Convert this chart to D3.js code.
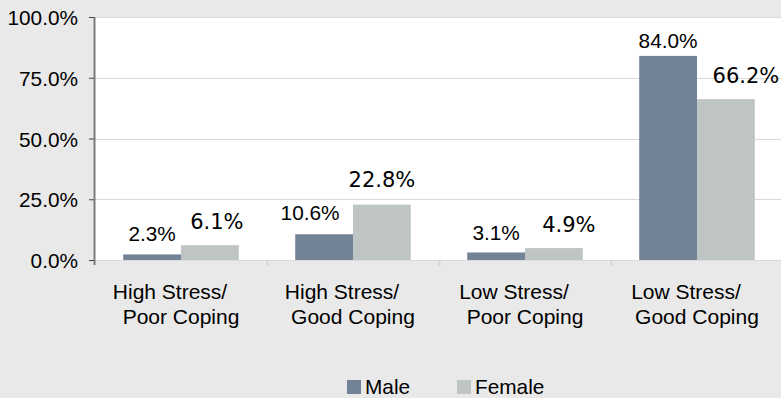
<!DOCTYPE html>
<html>
<head>
<meta charset="utf-8">
<script src="https://cdn.jsdelivr.net/npm/d3@7/dist/d3.min.js"></script>
<style>
  html, body { margin: 0; padding: 0; background: #e9e9e9; }
  svg { display: block; }
</style>
</head>
<body>
<svg id="chart" width="781" height="398"></svg>
<script>
// Stress / coping groups, split by sex
const categories = [
  ["High Stress/", "Poor Coping"],
  ["High Stress/", "Good Coping"],
  ["Low Stress/", "Poor Coping"],
  ["Low Stress/", "Good Coping"]
];
const seriesNames = ["Male", "Female"];
const maleValues = [2.3, 10.6, 3.1, 84.0];
const femaleValues = [6.1, 22.8, 4.9, 66.2];
const yTicks = [0, 25, 50, 75, 100];

// label placement tweaks (dx, gap above bar) per series, in px
const labelLayout = {
  Male:   { dx: [0, -14, 0, 0], gap: [13, 14, 12.5, 8] },
  Female: { dx: [7, 0, 15, 20], gap: [16, 17.5, 16.5, 16.5] }
};

const colors = { Male: "#738396", Female: "#bfc4c4" };
const labelFonts = { Male: "'Liberation Sans', Arial, sans-serif", Female: "'DejaVu Sans', Verdana, sans-serif" };
const sans = "'Liberation Sans', Arial, sans-serif";

const svg = d3.select("#chart");
const W = 781, H = 398;
const margin = { left: 95, right: -2, top: 17, bottom: 138 };
const plotW = W - margin.left - margin.right;
const plotH = H - margin.top - margin.bottom;

const x0 = d3.scaleBand().domain(d3.range(categories.length)).range([0, plotW]);
const x1 = d3.scaleBand().domain(seriesNames).range([0, x0.bandwidth() * 0.672]);
const y = d3.scaleLinear().domain([0, 100]).range([plotH, 0]);

const g = svg.append("g").attr("transform", `translate(${margin.left},${margin.top})`);

// plot background
g.append("rect").attr("x", 0).attr("y", 0).attr("width", W - margin.left).attr("height", plotH).attr("fill", "#ffffff");

// horizontal gridlines
g.append("g").selectAll("line").data(yTicks).join("line")
  .attr("x1", 0).attr("x2", W - margin.left)
  .attr("y1", d => Math.round(y(d)) + 0.5).attr("y2", d => Math.round(y(d)) + 0.5)
  .attr("stroke", "#d9d9d9").attr("stroke-width", 1);

// category separators below baseline
g.append("g").selectAll("line").data(d3.range(1, categories.length)).join("line")
  .attr("x1", d => Math.round(x0(d)) + 0.5).attr("x2", d => Math.round(x0(d)) + 0.5)
  .attr("y1", plotH).attr("y2", plotH + 6)
  .attr("stroke", "#d4d4d4").attr("stroke-width", 2);

// bars and value labels
const series = seriesNames.map(name => ({ name, values: name === "Male" ? maleValues : femaleValues }));
const groupOffset = (x0.bandwidth() - x1.range()[1]) / 2;

series.forEach(s => {
  const lay = labelLayout[s.name];
  g.append("g").selectAll("rect").data(s.values).join("rect")
    .attr("x", (d, i) => x0(i) + groupOffset + x1(s.name))
    .attr("width", x1.bandwidth())
    .attr("y", d => y(d))
    .attr("height", d => plotH - y(d))
    .attr("fill", colors[s.name]);

  g.append("g").selectAll("text").data(s.values).join("text")
    .attr("x", (d, i) => x0(i) + groupOffset + x1(s.name) + x1.bandwidth() / 2 + lay.dx[i])
    .attr("y", (d, i) => y(d) - lay.gap[i])
    .attr("text-anchor", "middle")
    .attr("font-family", labelFonts[s.name])
    .attr("font-size", s.name === "Female" ? 21 : 20.8)
    .attr("fill", "#000")
    .text(d => d.toFixed(1) + "%");
});

// y axis
const yAxis = g.append("g").call(d3.axisLeft(y).tickValues(yTicks).tickSize(6).tickPadding(11).tickFormat(d => d.toFixed(1) + "%"));
yAxis.select(".domain").remove();
yAxis.selectAll(".tick line").attr("stroke", "#404040");
yAxis.selectAll(".tick text").attr("font-family", sans).attr("font-size", 20.8).attr("fill", "#000").attr("dy", "0.36em");
g.append("line").attr("x1", -0.5).attr("x2", -0.5).attr("y1", 0).attr("y2", plotH + 5)
  .attr("stroke", "#7a7a7a").attr("stroke-width", 2);

// category labels
const catLabels = g.append("g").selectAll("text").data(categories).join("text")
  .attr("text-anchor", "middle")
  .attr("font-family", sans)
  .attr("font-size", 21)
  .attr("fill", "#000");
catLabels.each(function(d, i) {
  const t = d3.select(this);
  const cx = x0(i) + x0.bandwidth() / 2;
  t.append("tspan").attr("x", cx - 11).attr("y", plotH + 39).text(d[0]);
  t.append("tspan").attr("x", cx).attr("y", plotH + 63.5).text(d[1]);
});

// legend
const legendItems = [{ name: "Male", x: 347 }, { name: "Female", x: 457 }];
const legend = svg.append("g");
legendItems.forEach(item => {
  legend.append("rect").attr("x", item.x).attr("y", 380).attr("width", 14).attr("height", 14).attr("fill", colors[item.name]);
  legend.append("text").attr("x", item.x + 18).attr("y", 394)
    .attr("font-family", sans).attr("font-size", 20.8).attr("fill", "#000")
    .text(item.name);
});
</script>
</body>
</html>
